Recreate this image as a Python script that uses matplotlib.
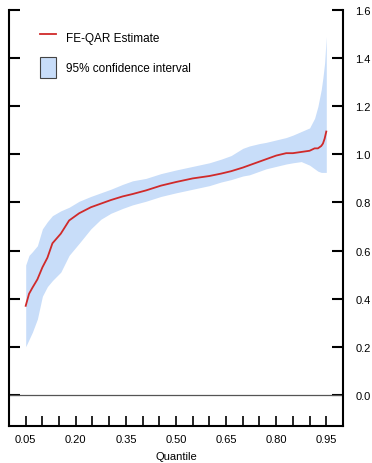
import numpy as np
import matplotlib
matplotlib.use("Agg")
import matplotlib.pyplot as plt
from matplotlib.patches import Patch
from matplotlib.lines import Line2D

# ==========================================
# Dane
# ==========================================
kwantyle = [0.05, 0.06, 0.07, 0.085, 0.10, 0.115, 0.13, 0.155, 0.18, 0.21,
            0.245, 0.275, 0.305, 0.34, 0.37, 0.41, 0.455, 0.50, 0.55, 0.60,
            0.635, 0.665, 0.70, 0.72, 0.75, 0.77, 0.80, 0.83, 0.85, 0.875,
            0.90, 0.915, 0.925, 0.935, 0.94, 0.945, 0.95]

estymacja = [0.37, 0.42, 0.445, 0.48, 0.53, 0.57, 0.63, 0.67, 0.725, 0.755,
             0.78, 0.795, 0.81, 0.825, 0.835, 0.85, 0.87, 0.885, 0.90, 0.91,
             0.92, 0.93, 0.945, 0.955, 0.97, 0.98, 0.995, 1.005, 1.005, 1.01,
             1.015, 1.025, 1.025, 1.035, 1.045, 1.065, 1.095]

gorna = [0.54, 0.58, 0.595, 0.62, 0.69, 0.72, 0.745, 0.765, 0.78, 0.805,
         0.825, 0.84, 0.855, 0.875, 0.89, 0.90, 0.92, 0.935, 0.95, 0.965,
         0.98, 0.995, 1.025, 1.035, 1.045, 1.05, 1.06, 1.07, 1.08, 1.095,
         1.11, 1.15, 1.20, 1.27, 1.32, 1.38, 1.49]

dolna = [0.20, 0.23, 0.26, 0.315, 0.41, 0.45, 0.475, 0.51, 0.58, 0.63,
         0.69, 0.73, 0.755, 0.775, 0.79, 0.805, 0.825, 0.84, 0.855, 0.87,
         0.885, 0.895, 0.91, 0.915, 0.93, 0.94, 0.95, 0.96, 0.965, 0.97,
         0.955, 0.94, 0.93, 0.925, 0.925, 0.925, 0.925]

x_ticki = [0.05, 0.10, 0.15, 0.20, 0.25, 0.30, 0.35, 0.40, 0.45, 0.50,
           0.55, 0.60, 0.65, 0.70, 0.75, 0.80, 0.85, 0.90, 0.95]
x_etykiety = ["0.05", "", "", "0.20", "", "", "0.35", "", "", "0.50",
              "", "", "0.65", "", "", "0.80", "", "", "0.95"]
y_ticki = [0.0, 0.2, 0.4, 0.6, 0.8, 1.0, 1.2, 1.4, 1.6]

# ==========================================
# Wykres
# ==========================================
plt.rcParams['font.family'] = ['Liberation Sans', 'DejaVu Sans']

fig = plt.figure(figsize=(3.72, 4.64), dpi=100)
ax = fig.add_axes([0.0242, 0.0797, 0.922 - 0.0242, 0.976 - 0.0797])

ax.fill_between(kwantyle, dolna, gorna, color='#c8ddf9', linewidth=0)
ax.plot(kwantyle, estymacja, color='#d02a2a', linewidth=1.3)
ax.axhline(0.0, color='#555555', linewidth=0.9)

ax.set_xlim(0.0, 1.0)
ax.set_ylim(-0.13, 1.6)

ax.spines['top'].set_visible(False)
for s in ['left', 'right', 'bottom']:
    ax.spines[s].set_linewidth(1.5)

ax.set_xticks(x_ticki)
ax.set_xticklabels(x_etykiety, fontsize=8)
ax.set_yticks(y_ticki)
ax.set_yticklabels([f"{v:.1f}" for v in y_ticki], fontsize=8)
ax.tick_params(axis='x', direction='in', length=7, width=1.2, pad=6)
ax.tick_params(axis='y', direction='in', length=8, width=1.5, pad=9,
               left=True, right=True, labelleft=False, labelright=True)
ax.set_xlabel('Quantile', fontsize=8, labelpad=5)

uchwyty = [Line2D([0], [0], color='#d02a2a', linewidth=1.3),
           Patch(facecolor='#c8ddf9', edgecolor='#444444', linewidth=0.8)]
ax.legend(uchwyty, ['FE-QAR Estimate', '95% confidence interval'],
          loc='upper left', bbox_to_anchor=(0.06, 0.985), frameon=False,
          fontsize=8.5, handlelength=1.4, handleheight=2.4, labelspacing=0.7,
          handletextpad=0.8)

plt.savefig('out.png', dpi=100)
